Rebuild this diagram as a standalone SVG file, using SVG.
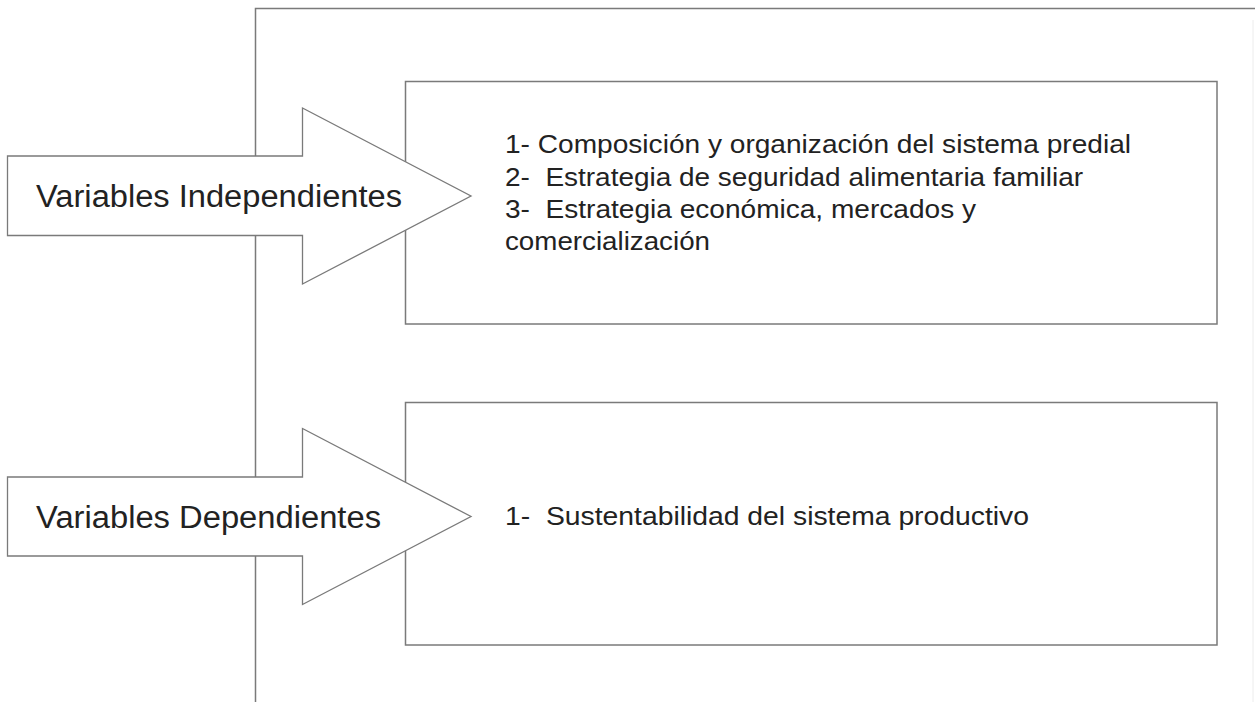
<svg xmlns="http://www.w3.org/2000/svg" width="1255" height="702" viewBox="0 0 1255 702">
<style>
.ln{fill:none;stroke:#7a7a7a;stroke-width:1.5}
.box{fill:#fff;stroke:#7a7a7a;stroke-width:1.5}
.arr{fill:#fff;stroke:#7a7a7a;stroke-width:1.3;stroke-linejoin:miter}
.big{font-family:"Liberation Sans",Arial,sans-serif;font-size:31px;fill:#222}
.txt{font-family:"Liberation Sans",Arial,sans-serif;font-size:26px;fill:#222;white-space:pre}
</style>
<rect width="1255" height="702" fill="#fff"/>
<g id="frame">
<polyline class="ln" points="255.5,702 255.5,8.5 1255,8.5"/>
<line x1="1253" y1="20" x2="1253" y2="702" stroke="#ececec" stroke-width="1"/>
</g>
<g id="box-independientes">
<rect class="box" x="405.5" y="81.5" width="811.5" height="242.5"/>
<text class="txt" xml:space="preserve"><tspan x="505" y="153" textLength="626" lengthAdjust="spacingAndGlyphs">1- Composición y organización del sistema predial</tspan><tspan x="505" y="185.5" textLength="578" lengthAdjust="spacingAndGlyphs">2-  Estrategia de seguridad alimentaria familiar</tspan><tspan x="505" y="218" textLength="471" lengthAdjust="spacingAndGlyphs">3-  Estrategia económica, mercados y</tspan><tspan x="505" y="250" textLength="205" lengthAdjust="spacingAndGlyphs">comercialización</tspan></text>
</g>
<g id="box-dependientes">
<rect class="box" x="405.5" y="402.5" width="811.5" height="242.5"/>
<text class="txt" xml:space="preserve" x="505" y="524.5" textLength="524" lengthAdjust="spacingAndGlyphs">1-  Sustentabilidad del sistema productivo</text>
</g>
<g id="arrow-independientes">
<polygon class="arr" points="7.5,156 302.5,156 302.5,108 471,196 302.5,284 302.5,235.5 7.5,235.5"/>
<text class="big" x="36" y="207" textLength="366" lengthAdjust="spacingAndGlyphs">Variables Independientes</text>
</g>
<g id="arrow-dependientes">
<polygon class="arr" points="7.5,477 302.5,477 302.5,428.5 471,516.5 302.5,604.5 302.5,556 7.5,556"/>
<text class="big" x="36" y="527.5" textLength="345" lengthAdjust="spacingAndGlyphs">Variables Dependientes</text>
</g>
</svg>
